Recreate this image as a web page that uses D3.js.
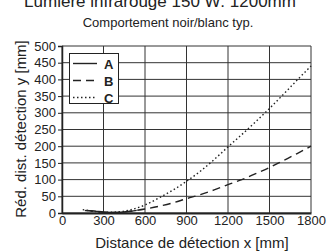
<!DOCTYPE html>
<html>
<head>
<meta charset="utf-8">
<script src="https://cdn.jsdelivr.net/npm/d3@7"></script>
<style>
  body { margin: 0; background: #fff; }
  text { font-family: "Liberation Sans", Arial, sans-serif; fill: #222; }
</style>
</head>
<body>
<svg id="canvas" width="331" height="251"></svg>
<script>
// valeurs
let xTicks = [0, 300, 600, 900, 1200, 1500, 1800];
let yTicks = [0, 50, 100, 150, 200, 250, 300, 350, 400, 450, 500];

let xA = [165, 200, 250, 300, 350, 400, 450, 500, 540];
let yA = [7, 7, 5, 3, 2, 2, 3, 5, 8];

let xB = [170, 250, 300, 400, 500, 600, 700, 800, 900, 1000, 1100, 1200, 1300, 1400, 1500, 1600, 1700, 1800];
let yB = [8, 4, 2, 2, 6, 12, 20, 30, 43, 55, 69, 85, 100, 118, 136, 157, 178, 200];

let xC = [150, 200, 300, 400, 500, 600, 700, 800, 900, 1000, 1100, 1200, 1300, 1400, 1500, 1600, 1700, 1800];
let yC = [10, 7, 2, 3, 10, 24, 45, 68, 95, 125, 160, 198, 235, 273, 313, 355, 398, 440];

let legendNames = ['A', 'B', 'C'];
let dashes = ['none', '8,5', '1.5,2.5'];

let canvas = d3.select('#canvas');

let margin = {left: 62, right: 20, top: 46, bottom: 38};
let W = 331, H = 251;

let xScale = d3.scaleLinear().domain([0, 1800]).range([margin.left, W - margin.right]);
let yScale = d3.scaleLinear().domain([0, 500]).range([H - margin.bottom, margin.top]);

// titres (le premier est coupé en haut comme sur l'original)
canvas.append('text').attr('x', 160).attr('y', 7).attr('text-anchor', 'middle')
  .attr('font-size', 17).text('Lumière infrarouge 150 W: 1200mm');
canvas.append('text').attr('x', 168).attr('y', 27).attr('text-anchor', 'middle')
  .attr('font-size', 13).text('Comportement noir/blanc typ.');

// grille
canvas.append('g').selectAll('line').data(yTicks).enter().append('line')
  .attr('x1', xScale(0)).attr('x2', xScale(1800))
  .attr('y1', d => yScale(d)).attr('y2', d => yScale(d))
  .attr('stroke', '#333').attr('stroke-width', 1);
canvas.append('g').selectAll('line').data(xTicks).enter().append('line')
  .attr('y1', yScale(0)).attr('y2', yScale(500))
  .attr('x1', d => xScale(d)).attr('x2', d => xScale(d))
  .attr('stroke', '#333').attr('stroke-width', 1);

// axes
let xAxis = d3.axisBottom(xScale).tickValues(xTicks).tickFormat(d3.format('d')).tickSize(0).tickPadding(3);
let gx = canvas.append('g').attr('transform', `translate(0,${yScale(0)})`).call(xAxis);
gx.select('.domain').attr('stroke', '#222').attr('stroke-width', 2);
gx.selectAll('text').attr('font-size', 13).style('fill', '#222');

let yAxis = d3.axisLeft(yScale).tickValues(yTicks).tickSize(4).tickPadding(2);
let gy = canvas.append('g').attr('transform', `translate(${xScale(0)},0)`).call(yAxis);
gy.select('.domain').attr('stroke', '#222').attr('stroke-width', 1.5);
gy.selectAll('.tick line').attr('stroke', '#222');
gy.selectAll('text').attr('font-size', 13).style('fill', '#222');

canvas.append('text').attr('x', 192).attr('y', 248).attr('text-anchor', 'middle')
  .attr('font-size', 15).text('Distance de détection x [mm]');
canvas.append('text').attr('transform', 'translate(26,129) rotate(-90)').attr('text-anchor', 'middle')
  .attr('font-size', 15).text('Réd. dist. détection y [mm]');

// courbes
let series = [
  xA.map((x, i) => [x, yA[i]]),
  xB.map((x, i) => [x, yB[i]]),
  xC.map((x, i) => [x, yC[i]])
];
let line = d3.line().x(d => xScale(d[0])).y(d => yScale(d[1])).curve(d3.curveMonotoneX);
canvas.append('g').selectAll('path').data(series).enter().append('path')
  .attr('d', line)
  .attr('fill', 'none')
  .attr('stroke', '#222')
  .attr('stroke-width', 1.4)
  .attr('stroke-dasharray', (d, i) => dashes[i]);

// légende
let lg = canvas.append('g');
lg.append('rect').attr('x', 69.5).attr('y', 53.5).attr('width', 49).attr('height', 50)
  .attr('fill', '#fff').attr('stroke', '#222').attr('stroke-width', 1);
legendNames.forEach((n, i) => {
  let y = 63.5 + i * 17;
  lg.append('line').attr('x1', 73).attr('x2', 97).attr('y1', y).attr('y2', y)
    .attr('stroke', '#222').attr('stroke-width', 1.4).attr('stroke-dasharray', dashes[i]);
  lg.append('text').attr('x', 104).attr('y', y + 5).attr('font-size', 13)
    .attr('font-weight', 'bold').text(n);
});
</script>
</body>
</html>
